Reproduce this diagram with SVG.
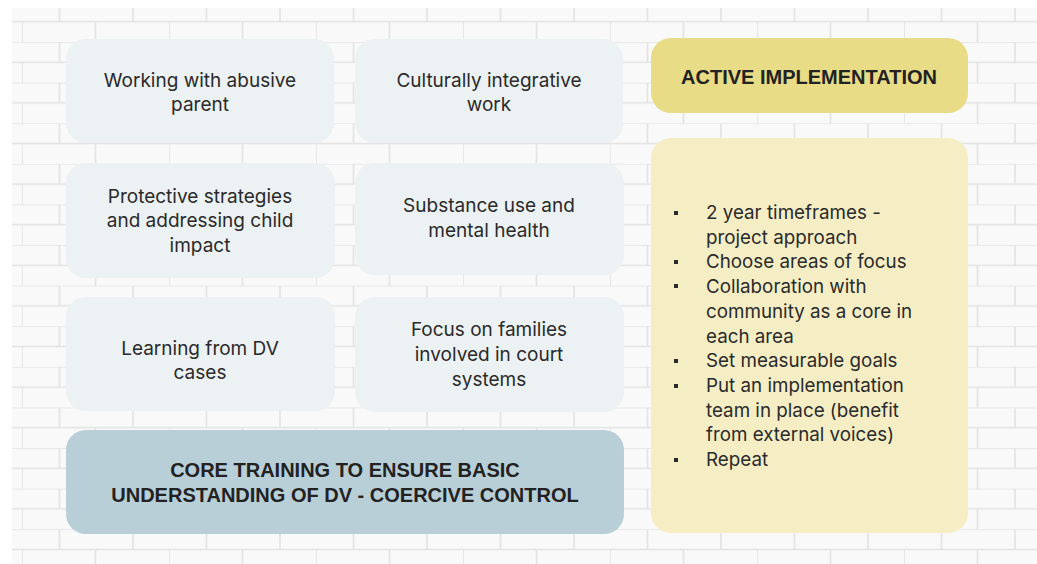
<svg xmlns="http://www.w3.org/2000/svg" width="1037" height="564" viewBox="0 0 1037 564">
<style>
.card{fill:#ecf1f4}
.t{font-family:Inter,"Liberation Sans",sans-serif;font-size:19px;fill:#2a2a2a;text-anchor:middle}
.b{font-family:"Liberation Sans",Arial,sans-serif;font-size:20px;font-weight:700;fill:#222;text-anchor:middle}
.l{font-family:Inter,"Liberation Sans",sans-serif;font-size:18.8px;fill:#2a2a2a}
.bul{fill:#2a2a2a}
</style>
<defs>
<pattern id="brick" patternUnits="userSpaceOnUse" x="22" y="1.4" width="147" height="40.6">
<rect width="147" height="40.6" fill="#f9f9f9"/>
<g stroke="#e3e3e3" stroke-width="1.6" fill="none">
<line x1="0" y1="0" x2="147" y2="0"/>
<line x1="0" y1="20.3" x2="147" y2="20.3"/>
<line x1="37.5" y1="0" x2="37.5" y2="20.3"/>
<line x1="111" y1="0" x2="111" y2="20.3"/>
<line x1="0" y1="20.3" x2="0" y2="40.6"/>
<line x1="73.5" y1="20.3" x2="73.5" y2="40.6"/>
</g>
</pattern>
</defs>
<rect width="1037" height="564" fill="#ffffff"/>
<rect x="12" y="8" width="1025" height="556" fill="url(#brick)"/>
<g id="connectors"/>
<g id="node-abusive-parent">
<rect class="card" x="66" y="39" width="268" height="104" rx="20"/>
<text class="t" x="200" y="87">Working with abusive</text>
<text class="t" x="200" y="111">parent</text>
</g>
<g id="node-cultural">
<rect class="card" x="355" y="39" width="268" height="104" rx="20"/>
<text class="t" x="489" y="87">Culturally integrative</text>
<text class="t" x="489" y="111">work</text>
</g>
<g id="node-protective">
<rect class="card" x="66" y="163" width="269" height="115" rx="20"/>
<text class="t" x="200" y="203">Protective strategies</text>
<text class="t" x="200" y="227">and addressing child</text>
<text class="t" x="200" y="252">impact</text>
</g>
<g id="node-substance">
<rect class="card" x="355" y="163" width="269" height="112" rx="20"/>
<text class="t" x="489" y="212">Substance use and</text>
<text class="t" x="489" y="237">mental health</text>
</g>
<g id="node-learning">
<rect class="card" x="66" y="297" width="269" height="114" rx="20"/>
<text class="t" x="200" y="355">Learning from DV</text>
<text class="t" x="200" y="379">cases</text>
</g>
<g id="node-court">
<rect class="card" x="355" y="297" width="269" height="115" rx="20"/>
<text class="t" x="489" y="336">Focus on families</text>
<text class="t" x="489" y="361">involved in court</text>
<text class="t" x="489" y="386">systems</text>
</g>
<g id="node-core-training">
<rect x="66" y="430" width="558" height="104" rx="20" fill="#b9cfd8"/>
<text class="b" x="345" y="477">CORE TRAINING TO ENSURE BASIC</text>
<text class="b" x="345" y="502">UNDERSTANDING OF DV - COERCIVE CONTROL</text>
</g>
<g id="node-active-implementation">
<rect x="651" y="38" width="317" height="75" rx="20" fill="#e8dc86"/>
<text class="b" x="809" y="84">ACTIVE IMPLEMENTATION</text>
</g>
<g id="node-implementation-steps">
<rect x="651" y="138" width="317" height="395" rx="20" fill="#f5eec5"/>
<rect class="bul" x="674" y="211" width="4" height="4"/>
<rect class="bul" x="674" y="260" width="4" height="4"/>
<rect class="bul" x="674" y="284" width="4" height="4"/>
<rect class="bul" x="674" y="359" width="4" height="4"/>
<rect class="bul" x="674" y="384" width="4" height="4"/>
<rect class="bul" x="674" y="458" width="4" height="4"/>
<text class="l" x="706" y="219">2 year timeframes -</text>
<text class="l" x="706" y="243.7">project approach</text>
<text class="l" x="706" y="268.4">Choose areas of focus</text>
<text class="l" x="706" y="293.1">Collaboration with</text>
<text class="l" x="706" y="317.8">community as a core in</text>
<text class="l" x="706" y="342.5">each area</text>
<text class="l" x="706" y="367.2">Set measurable goals</text>
<text class="l" x="706" y="391.9">Put an implementation</text>
<text class="l" x="706" y="416.6">team in place (benefit</text>
<text class="l" x="706" y="441.3">from external voices)</text>
<text class="l" x="706" y="466">Repeat</text>
</g>
</svg>
